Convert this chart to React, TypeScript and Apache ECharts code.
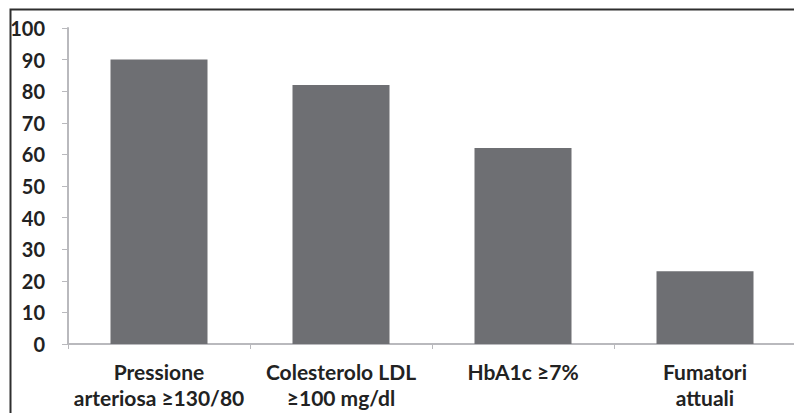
import React, { useEffect, useRef } from "react";
import * as echarts from "echarts";

const categories = [
  "Pressione\narteriosa ≥130/80",
  "Colesterolo LDL\n≥100 mg/dl",
  "HbA1c ≥7%",
  "Fumatori\nattuali",
];
const values = [90, 82, 62, 23];
const yTicks = { min: 0, max: 100, interval: 10 };

export default function App() {
  const ref = useRef<HTMLDivElement>(null);
  useEffect(() => {
    if (!ref.current) return;
    const chart = echarts.init(ref.current, null, { renderer: "svg" });
    chart.setOption({
      animation: false,
      backgroundColor: "#ffffff",
      grid: {
        left: 68,
        right: -2,
        top: 28,
        bottom: 69,
        containLabel: false,
        outerBoundsMode: "none",
      },
      graphic: [
        {
          type: "rect",
          shape: { x: 10.5, y: 9.5, width: 820, height: 440 },
          style: { fill: "none", stroke: "#2e2e2e", lineWidth: 2 },
          z: 100,
        },
      ],
      xAxis: {
        type: "category",
        data: categories,
        axisLine: { lineStyle: { color: "#b9b9bd", width: 2 } },
        axisTick: { show: true, length: 5, lineStyle: { color: "#b9b9bd" } },
        axisLabel: {
          interval: 0,
          margin: 14,
          color: "#222222",
          fontFamily: "Lato",
          fontWeight: "bold",
          fontSize: 21,
          lineHeight: 26,
        },
      },
      yAxis: {
        type: "value",
        min: yTicks.min,
        max: yTicks.max,
        interval: yTicks.interval,
        splitLine: { show: false },
        axisLine: { show: true, lineStyle: { color: "#b9b9bd", width: 2 } },
        axisTick: { show: true, length: 6, lineStyle: { color: "#b9b9bd" } },
        axisLabel: {
          margin: 23,
          color: "#222222",
          fontFamily: "Lato",
          fontWeight: "bold",
          fontSize: 20,
        },
      },
      series: [
        {
          type: "bar",
          data: values,
          barWidth: 97,
          itemStyle: { color: "#6e6f73" },
        },
      ],
    });
    return () => chart.dispose();
  }, []);
  return <div ref={ref} style={{ width: 794, height: 413, position: "absolute", left: 0, top: 0 }} />;
}
